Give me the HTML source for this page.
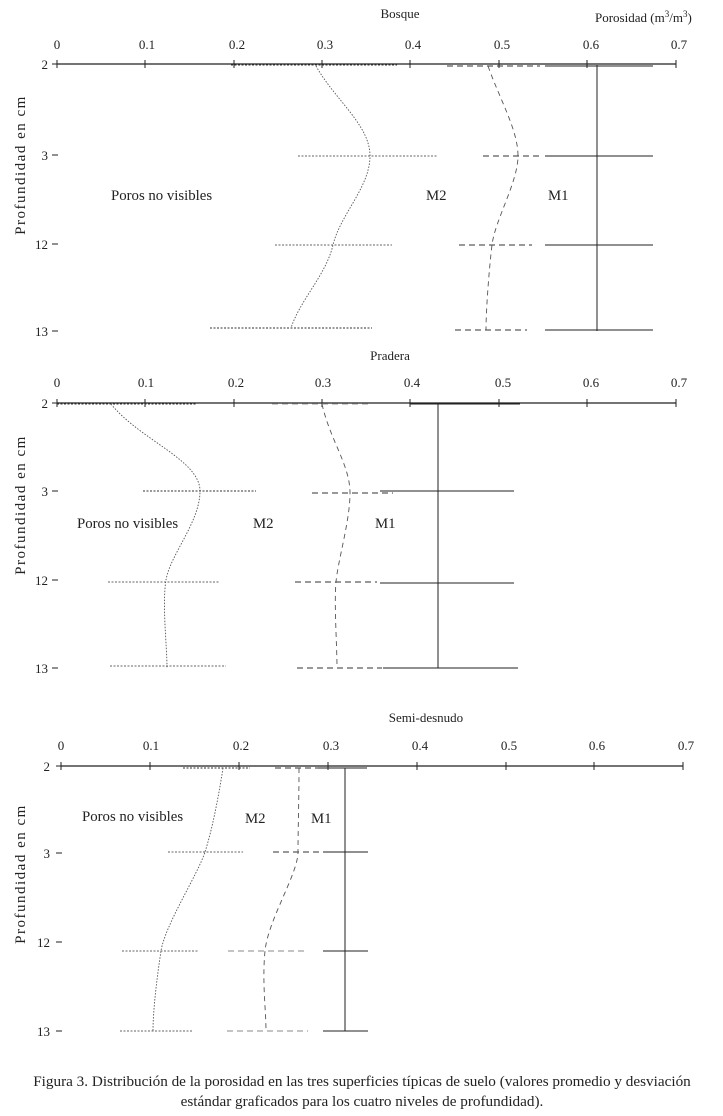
<!DOCTYPE html>
<html><head><meta charset="utf-8"><style>
body{margin:0;background:#fff}
svg{display:block}
text{font-family:"Liberation Serif",serif;font-size:13px;fill:#222}
.lb{font-size:14.8px}
</style></head><body>
<svg width="723" height="1116" viewBox="0 0 723 1116" xmlns="http://www.w3.org/2000/svg">
<g stroke="#222" fill="none">
<!-- Panel 1 -->
<line x1="57" y1="64" x2="676" y2="64" stroke-width="1.2"/>
<g stroke-width="1">
<line x1="57" y1="60" x2="57" y2="68"/><line x1="145" y1="60" x2="145" y2="68"/><line x1="234" y1="60" x2="234" y2="68"/><line x1="322" y1="60" x2="322" y2="68"/><line x1="410" y1="60" x2="410" y2="68"/><line x1="499" y1="60" x2="499" y2="68"/><line x1="587" y1="60" x2="587" y2="68"/><line x1="676" y1="60" x2="676" y2="68"/>
<line x1="52" y1="64" x2="58" y2="64"/><line x1="52" y1="155" x2="58" y2="155"/><line x1="52" y1="244" x2="58" y2="244"/><line x1="52" y1="331" x2="58" y2="331"/>
</g>
<line x1="597" y1="65" x2="597" y2="331"/>
<line x1="545" y1="66" x2="653" y2="66"/><line x1="545" y1="156" x2="653" y2="156"/><line x1="545" y1="245" x2="653" y2="245"/><line x1="545" y1="330" x2="653" y2="330"/>
<g stroke-dasharray="6,4" stroke="#333">
<line x1="447" y1="66" x2="540" y2="66"/><line x1="483" y1="156" x2="540" y2="156"/><line x1="459" y1="245" x2="532" y2="245"/><line x1="455" y1="330" x2="527" y2="330"/>
</g>
<path d="M488,66 C500,100 518,130 518,156 S495,220 492,245 S486,310 486,330" stroke="#555" stroke-dasharray="5,4" stroke-width="0.9"/>
<g stroke-dasharray="2,1.5" stroke="#666">
<line x1="231" y1="65" x2="397" y2="65" stroke="#333"/><line x1="298" y1="156" x2="437" y2="156"/><line x1="275" y1="245" x2="392" y2="245"/><line x1="210" y1="328" x2="372" y2="328" stroke="#333"/>
</g>
<path d="M316,66 C335,100 370,125 370,156 S340,215 333,245 S300,300 291,328" stroke="#555" stroke-dasharray="1.5,1.5" stroke-width="0.9"/>

<!-- Panel 2 -->
<line x1="57" y1="403" x2="676" y2="403" stroke-width="1.2"/>
<g stroke-width="1">
<line x1="57" y1="399" x2="57" y2="407"/><line x1="145" y1="399" x2="145" y2="407"/><line x1="234" y1="399" x2="234" y2="407"/><line x1="322" y1="399" x2="322" y2="407"/><line x1="410" y1="399" x2="410" y2="407"/><line x1="499" y1="399" x2="499" y2="407"/><line x1="587" y1="399" x2="587" y2="407"/><line x1="676" y1="399" x2="676" y2="407"/>
<line x1="52" y1="403" x2="58" y2="403"/><line x1="52" y1="491" x2="58" y2="491"/><line x1="52" y1="580" x2="58" y2="580"/><line x1="52" y1="668" x2="58" y2="668"/>
</g>
<line x1="438" y1="404" x2="438" y2="668"/>
<line x1="410" y1="404" x2="520" y2="404"/><line x1="380" y1="491" x2="514" y2="491"/><line x1="380" y1="583" x2="514" y2="583"/><line x1="383" y1="668" x2="518" y2="668"/>
<g stroke-dasharray="6,4" stroke="#333">
<line x1="272" y1="404" x2="368" y2="404" stroke="#999"/><line x1="312" y1="493" x2="393" y2="493"/><line x1="295" y1="582" x2="377" y2="582"/><line x1="297" y1="668" x2="382" y2="668"/>
</g>
<path d="M322,404 C330,440 350,465 350,493 S338,560 336,582 S337,645 337,668" stroke="#555" stroke-dasharray="5,4" stroke-width="0.9"/>
<g stroke-dasharray="2,1.5" stroke="#666">
<line x1="57" y1="404" x2="196" y2="404" stroke="#333"/><line x1="143" y1="491" x2="256" y2="491" stroke="#333"/><line x1="108" y1="582" x2="220" y2="582"/><line x1="110" y1="666" x2="226" y2="666"/>
</g>
<path d="M111,404 C140,440 200,460 200,491 S170,555 166,580 S167,645 167,668" stroke="#555" stroke-dasharray="1.5,1.5" stroke-width="0.9"/>

<!-- Panel 3 -->
<line x1="61" y1="766" x2="683" y2="766" stroke-width="1.2"/>
<g stroke-width="1">
<line x1="61" y1="762" x2="61" y2="770"/><line x1="150" y1="762" x2="150" y2="770"/><line x1="239" y1="762" x2="239" y2="770"/><line x1="328" y1="762" x2="328" y2="770"/><line x1="417" y1="762" x2="417" y2="770"/><line x1="506" y1="762" x2="506" y2="770"/><line x1="594" y1="762" x2="594" y2="770"/><line x1="683" y1="762" x2="683" y2="770"/>
<line x1="56" y1="766" x2="62" y2="766"/><line x1="56" y1="853" x2="62" y2="853"/><line x1="56" y1="942" x2="62" y2="942"/><line x1="56" y1="1031" x2="62" y2="1031"/>
</g>
<line x1="345" y1="768" x2="345" y2="1031"/>
<line x1="318" y1="768" x2="367" y2="768"/><line x1="323" y1="852" x2="368" y2="852"/><line x1="323" y1="951" x2="368" y2="951"/><line x1="323" y1="1031" x2="368" y2="1031"/>
<g stroke-dasharray="6,4" stroke="#333">
<line x1="275" y1="768" x2="318" y2="768"/><line x1="273" y1="852" x2="320" y2="852"/><line x1="228" y1="951" x2="308" y2="951" stroke="#888"/><line x1="227" y1="1031" x2="308" y2="1031" stroke="#888"/>
</g>
<path d="M299,768 C299,800 298,830 298,852 S268,920 265,951 S266,1010 266,1031" stroke="#555" stroke-dasharray="5,4" stroke-width="0.9"/>
<g stroke-dasharray="2,1.5" stroke="#666">
<line x1="183" y1="768" x2="250" y2="768" stroke="#333"/><line x1="168" y1="852" x2="243" y2="852"/><line x1="122" y1="951" x2="198" y2="951"/><line x1="120" y1="1031" x2="192" y2="1031"/>
</g>
<path d="M223,768 C218,800 212,830 205,852 S165,925 161,951 S153,1010 153,1031" stroke="#555" stroke-dasharray="1.5,1.5" stroke-width="0.9"/>
</g>

<!-- Text -->
<text x="400" y="18" text-anchor="middle">Bosque</text>
<text x="595" y="22">Porosidad (m<tspan font-size="9" dy="-5">3</tspan><tspan dy="5">/m</tspan><tspan font-size="9" dy="-5">3</tspan><tspan dy="5">)</tspan></text>
<g text-anchor="middle">
<text x="57" y="49">0</text><text x="147" y="49">0.1</text><text x="237" y="49">0.2</text><text x="325" y="49">0.3</text><text x="413" y="49">0.4</text><text x="502" y="49">0.5</text><text x="591" y="49">0.6</text><text x="679" y="49">0.7</text>
<text x="390" y="360">Pradera</text>
<text x="57" y="387">0</text><text x="146" y="387">0.1</text><text x="236" y="387">0.2</text><text x="323" y="387">0.3</text><text x="412" y="387">0.4</text><text x="503" y="387">0.5</text><text x="591" y="387">0.6</text><text x="679" y="387">0.7</text>
<text x="426" y="722">Semi-desnudo</text>
<text x="61" y="750">0</text><text x="151" y="750">0.1</text><text x="241" y="750">0.2</text><text x="331" y="750">0.3</text><text x="420" y="750">0.4</text><text x="509" y="750">0.5</text><text x="597" y="750">0.6</text><text x="686" y="750">0.7</text>
</g>
<g text-anchor="end">
<text x="48" y="69">2</text><text x="48" y="160">3</text><text x="48" y="249">12</text><text x="48" y="336">13</text>
<text x="48" y="408">2</text><text x="48" y="496">3</text><text x="48" y="585">12</text><text x="48" y="673">13</text>
<text x="50" y="771">2</text><text x="50" y="858">3</text><text x="50" y="947">12</text><text x="50" y="1036">13</text>
</g>
<g class="lb">
<text class="lb" x="111" y="200">Poros no visibles</text><text class="lb" x="426" y="200">M2</text><text class="lb" x="548" y="200">M1</text>
<text class="lb" x="77" y="528">Poros no visibles</text><text class="lb" x="253" y="528">M2</text><text class="lb" x="375" y="528">M1</text>
<text class="lb" x="82" y="821">Poros no visibles</text><text class="lb" x="245" y="823">M2</text><text class="lb" x="311" y="823">M1</text>
</g>
<g text-anchor="middle">
<text fill="#444" style="font-size:15px;letter-spacing:1.5px" transform="translate(25,165) rotate(-90)">Profundidad en cm</text>
<text fill="#444" style="font-size:15px;letter-spacing:1.5px" transform="translate(25,505) rotate(-90)">Profundidad en cm</text>
<text fill="#444" style="font-size:15px;letter-spacing:1.5px" transform="translate(25,874) rotate(-90)">Profundidad en cm</text>
</g>
<text x="362" y="1086" text-anchor="middle" style="font-size:15.2px">Figura 3. Distribución de la porosidad en las tres superficies típicas de suelo (valores promedio y desviación</text>
<text x="362" y="1106" text-anchor="middle" style="font-size:15.2px">estándar graficados para los cuatro niveles de profundidad).</text>
</svg>
</body></html>
